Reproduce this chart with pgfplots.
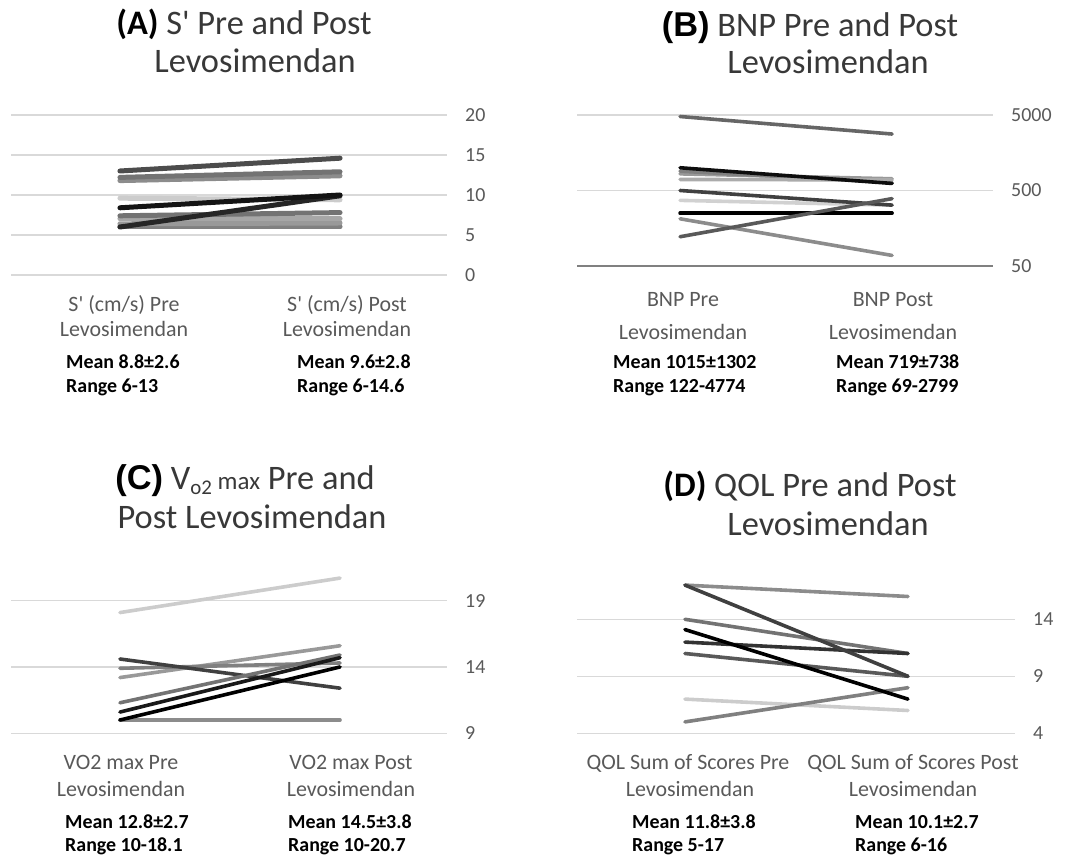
\documentclass[border=0pt]{standalone}
\usepackage{fontspec}
\setmainfont{Carlito}
\newfontfamily\arialfont{Liberation Sans}
\usepackage{pgfplots}
\pgfplotsset{compat=1.18}
\definecolor{tickgray}{gray}{0.35}
\definecolor{gridgray}{gray}{0.85}
\definecolor{titlegray}{gray}{0.22}
\pgfplotsset{
 panel/.style={
  scale only axis,
  axis line style={draw=none},
  xtick=\empty,
  ymajorgrids,
  yminorticks=false,
  grid style={gridgray, line width=1.3bp},
  major tick length=0pt,
  minor tick length=0pt,
  yticklabel pos=right,
  yticklabel style={anchor=west, inner sep=0pt, xshift=18bp, font=\fontsize{20}{24}\selectfont, text=tickgray},
  /pgf/number format/assume math mode=true,
  clip=false,
  every axis plot/.append style={line cap=round, no marks},
 }
}
\newcommand{\tfont}{\fontsize{34.5}{40}\selectfont}
\newcommand{\cfont}{\fontsize{22}{25}\selectfont}
\newcommand{\mfont}{\fontsize{20}{23}\selectfont\bfseries}
\begin{document}
\begin{tikzpicture}
\path[use as bounding box] (0,0) rectangle (1074bp,859bp);

% ---------- Panel A ----------
\begin{axis}[panel, at={(11bp,584bp)}, anchor=south west, width=436bp, height=160bp,
  xmin=-0.495, xmax=1.486, ymin=0, ymax=20, ytick={0,5,10,15,20}]
\addplot[line width=5bp, black!50] coordinates {(0,6.0) (1,6.0)};
\addplot[line width=5bp, black!40] coordinates {(0,6.4) (1,6.5)};
\addplot[line width=5bp, black!35] coordinates {(0,7.0) (1,7.0)};
\addplot[line width=5bp, black!55] coordinates {(0,7.4) (1,7.8)};
\addplot[line width=5bp, black!20] coordinates {(0,9.6) (1,9.4)};
\addplot[line width=5bp, black!85] coordinates {(0,6.0) (1,9.9)};
\addplot[line width=5bp, black!92] coordinates {(0,8.4) (1,10.0)};
\addplot[line width=5bp, black!45] coordinates {(0,11.8) (1,12.4)};
\addplot[line width=5bp, black!55] coordinates {(0,12.2) (1,12.9)};
\addplot[line width=5bp, black!70] coordinates {(0,13.0) (1,14.6)};
\end{axis}

% ---------- Panel B ----------
\begin{axis}[panel, at={(577bp,593bp)}, anchor=south west, width=416bp, height=151bp,
  ymode=log, xmin=-0.486, xmax=1.476, ymin=50, ymax=5000,
  ytick={500,5000}, yticklabels={500,5000},
  extra y ticks={50}, extra y tick labels={50},
  extra y tick style={grid style={black!50, line width=1.3bp}}]
\addplot[line width=3.6bp, black!60] coordinates {(0,4774) (1,2799)};
\addplot[line width=3.6bp, black!40] coordinates {(0,830) (1,715)};
\addplot[line width=3.6bp, black!50] coordinates {(0,900) (1,640)};
\addplot[line width=3.6bp, black!33] coordinates {(0,700) (1,690)};
\addplot[line width=3.6bp, black!95] coordinates {(0,1000) (1,620)};
\addplot[line width=3.6bp, black!18] coordinates {(0,370) (1,320)};
\addplot[line width=3.6bp, black!75] coordinates {(0,500) (1,320)};
\addplot[line width=3.6bp, black] coordinates {(0,250) (1,250)};
\addplot[line width=3.6bp, black!45] coordinates {(0,211) (1,69)};
\addplot[line width=3.6bp, black!65] coordinates {(0,122) (1,390)};
\end{axis}

% ---------- Panel C ----------
\begin{axis}[panel, at={(11bp,125.7bp)}, anchor=south west, width=436bp, height=159.2bp,
  xmin=-0.495, xmax=1.486, ymin=9, ymax=21, ytick={9,14,19}]
\addplot[line width=3.6bp, black!20] coordinates {(0,18.1) (1,20.7)};
\addplot[line width=3.6bp, black!45] coordinates {(0,10.0) (1,10.0)};
\addplot[line width=3.6bp, black!40] coordinates {(0,13.2) (1,15.6)};
\addplot[line width=3.6bp, black!50] coordinates {(0,13.9) (1,14.3)};
\addplot[line width=3.6bp, black!75] coordinates {(0,14.6) (1,12.4)};
\addplot[line width=3.6bp, black!55] coordinates {(0,11.3) (1,14.9)};
\addplot[line width=3.6bp, black!90] coordinates {(0,10.6) (1,14.7)};
\addplot[line width=3.6bp, black] coordinates {(0,10.0) (1,14.0)};
\end{axis}

% ---------- Panel D ----------
\begin{axis}[panel, at={(577bp,125.7bp)}, anchor=south west, width=438bp, height=159.6bp,
  xmin=-0.484, xmax=1.48, ymin=4, ymax=18, ytick={4,9,14}]
\addplot[line width=3.6bp, black!45] coordinates {(0,17) (1,16)};
\addplot[line width=3.6bp, black!20] coordinates {(0,7) (1,6)};
\addplot[line width=3.6bp, black!50] coordinates {(0,5) (1,8)};
\addplot[line width=3.6bp, black!55] coordinates {(0,14) (1,11)};
\addplot[line width=3.6bp, black!65] coordinates {(0,11) (1,9)};
\addplot[line width=3.6bp, black!80] coordinates {(0,12) (1,11)};
\addplot[line width=3.6bp, black!75] coordinates {(0,17) (1,9)};
\addplot[line width=3.6bp, black] coordinates {(0,13.1) (1,7)};
\end{axis}

% ---------- Titles ----------
\begin{scope}[every node/.style={inner sep=0pt, anchor=base, text=titlegray, font=\tfont}]
\node at (244bp,824bp) {{\color{black}\bfseries (A)} S\textquotesingle{} Pre and Post};
\node at (255bp,786bp) {Levosimendan};
\node at (810bp,822bp) {{\color{black}\arialfont\bfseries (B)} BNP Pre and Post};
\node at (828bp,785bp) {Levosimendan};
\node at (245bp,369bp) {{\color{black}\arialfont\bfseries (C)} V\raisebox{-0.3ex}{\fontsize{21}{21}\selectfont o2}\,{\fontsize{25}{25}\selectfont max} Pre and};
\node at (252bp,330bp) {Post Levosimendan};
\node at (810bp,362bp) {{\color{black}\bfseries (D)} QOL Pre and Post};
\node at (828bp,323bp) {Levosimendan};
\end{scope}

% ---------- Category labels ----------
\begin{scope}[every node/.style={inner sep=0pt, anchor=base, text=tickgray, font=\cfont}]
\node at (124bp,547.5bp) {S\textquotesingle{} (cm/s) Pre};
\node at (124bp,522.5bp) {Levosimendan};
\node at (347bp,547.5bp) {S\textquotesingle{} (cm/s) Post};
\node at (347bp,522.5bp) {Levosimendan};
\node at (683bp,552.5bp) {BNP Pre};
\node at (683bp,519.5bp) {Levosimendan};
\node at (893bp,552.5bp) {BNP Post};
\node at (893bp,519.5bp) {Levosimendan};
\node at (121bp,89.5bp) {VO2 max Pre};
\node at (121bp,62.5bp) {Levosimendan};
\node at (351bp,89.5bp) {VO2 max Post};
\node at (351bp,62.5bp) {Levosimendan};
\node at (688bp,89.5bp) {QOL Sum of Scores Pre};
\node at (690bp,62.5bp) {Levosimendan};
\node at (913bp,89.5bp) {QOL Sum of Scores Post};
\node at (913bp,62.5bp) {Levosimendan};
\end{scope}

% ---------- Mean / Range ----------
\begin{scope}[every node/.style={inner sep=0pt, anchor=base west, text=black, font=\mfont}]
\node at (66bp,490.5bp) {Mean 8.8±2.6};
\node at (66bp,466.5bp) {Range 6-13};
\node at (297bp,490.5bp) {Mean 9.6±2.8};
\node at (297bp,466.5bp) {Range 6-14.6};
\node at (613bp,490.5bp) {Mean 1015±1302};
\node at (613bp,466.5bp) {Range 122-4774};
\node at (836bp,490.5bp) {Mean 719±738};
\node at (836bp,466.5bp) {Range 69-2799};
\node at (65bp,30.5bp) {Mean 12.8±2.7};
\node at (65bp,7.5bp) {Range 10-18.1};
\node at (288bp,30.5bp) {Mean 14.5±3.8};
\node at (288bp,7.5bp) {Range 10-20.7};
\node at (632bp,30.5bp) {Mean 11.8±3.8};
\node at (632bp,7.5bp) {Range 5-17};
\node at (855bp,30.5bp) {Mean 10.1±2.7};
\node at (855bp,7.5bp) {Range 6-16};
\end{scope}
\end{tikzpicture}
\end{document}
